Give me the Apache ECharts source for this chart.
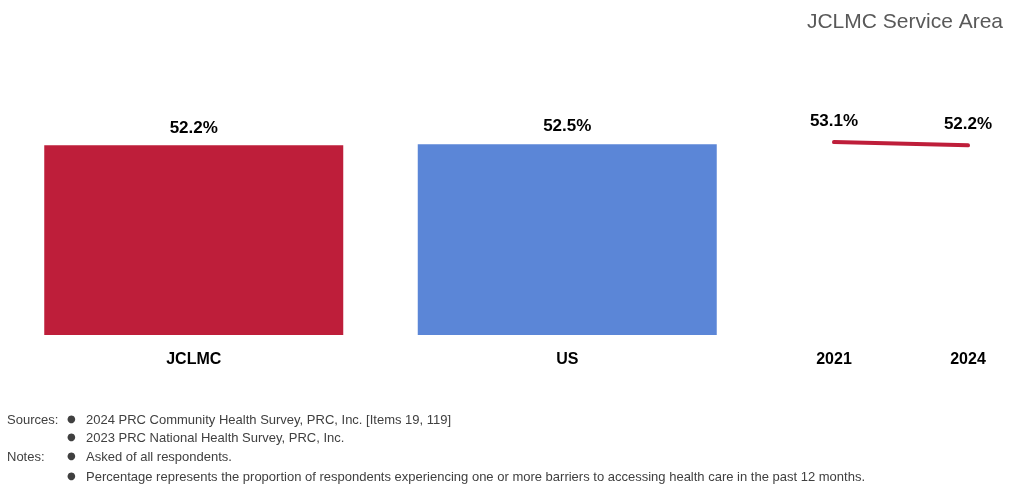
<!DOCTYPE html>
<html><head><meta charset="utf-8">
<script src="https://cdn.jsdelivr.net/npm/echarts@6/dist/echarts.min.js"></script>
<style>html,body{margin:0;padding:0;background:#fff}#c{width:1016px;height:487px}</style>
</head><body><div id="c"></div>
<script>
const barCategories = ['JCLMC', 'US'];
const barValues = [52.2, 52.5];
const barColors = ['#BE1E3A', '#5B86D7'];
const trendYears = ['2021', '2024'];
const trendValues = [53.1, 52.2];
const titleText = 'JCLMC Service Area';
const sourceLines = ['2024 PRC Community Health Survey, PRC, Inc. [Items 19, 119]', '2023 PRC National Health Survey, PRC, Inc.'];
const noteLines = ['Asked of all respondents.', 'Percentage represents the proportion of respondents experiencing one or more barriers to accessing health care in the past 12 months.'];

const narrow = '"Liberation Sans Narrow", "Arial Narrow", "Liberation Sans", Arial, sans-serif';
const chart = echarts.init(document.getElementById('c'));
const foot = [];
const lineY = [422, 440, 459, 479];
const all = [['Sources:', sourceLines[0]], ['', sourceLines[1]], ['Notes:', noteLines[0]], ['', noteLines[1]]];
all.forEach((r, i) => {
  if (r[0]) foot.push({type: 'text', left: 7, top: lineY[i] - 8, style: {text: r[0], font: '13px ' + narrow, fill: '#404040'}});
  foot.push({type: 'text', left: 67, top: lineY[i] - 8, style: {text: '●', font: '10px "DejaVu Sans", sans-serif', fill: '#404040'}});
  foot.push({type: 'text', left: 86, top: lineY[i] - 8, style: {text: r[1], font: '13px ' + narrow, fill: '#404040'}});
});
chart.setOption({
  animation: false,
  title: {text: titleText, right: 8, top: 7, textStyle: {fontFamily: '"Liberation Sans", Arial, sans-serif', fontSize: 21, fontWeight: 'normal', color: '#595959'}},
  grid: [
    {left: 7, width: 747, top: 117, bottom: 152},
    {left: 834, width: 134, top: 117, bottom: 152}
  ],
  xAxis: [
    {type: 'category', gridIndex: 0, data: barCategories, axisLine: {show: false}, axisTick: {show: false},
     axisLabel: {margin: 17, fontFamily: narrow, fontSize: 16, fontWeight: 'bold', color: '#000'}},
    {type: 'category', gridIndex: 1, data: trendYears, boundaryGap: false, axisLine: {show: false}, axisTick: {show: false},
     axisLabel: {margin: 17, fontFamily: narrow, fontSize: 16, fontWeight: 'bold', color: '#000'}}
  ],
  yAxis: [
    {type: 'value', gridIndex: 0, min: 0, max: 60, show: false},
    {type: 'value', gridIndex: 1, min: 0, max: 60, show: false}
  ],
  series: [
    {type: 'bar', xAxisIndex: 0, yAxisIndex: 0, barWidth: 299,
     data: barValues.map((v, i) => ({value: v, itemStyle: {color: barColors[i]}})),
     label: {show: true, position: 'top', distance: 9, formatter: p => p.value.toFixed(1) + '%', fontFamily: narrow, fontSize: 17, fontWeight: 'bold', color: '#000'}},
    {type: 'line', xAxisIndex: 1, yAxisIndex: 1, data: trendValues, symbol: 'circle', symbolSize: 1, showSymbol: true,
     itemStyle: {color: 'rgba(0,0,0,0)'},
     lineStyle: {color: '#BE1E3A', width: 4, cap: 'round'},
     label: {show: true, position: 'top', distance: 12, formatter: p => p.value.toFixed(1) + '%', fontFamily: narrow, fontSize: 17, fontWeight: 'bold', color: '#000'}}
  ],
  graphic: foot
});
</script></body></html>
